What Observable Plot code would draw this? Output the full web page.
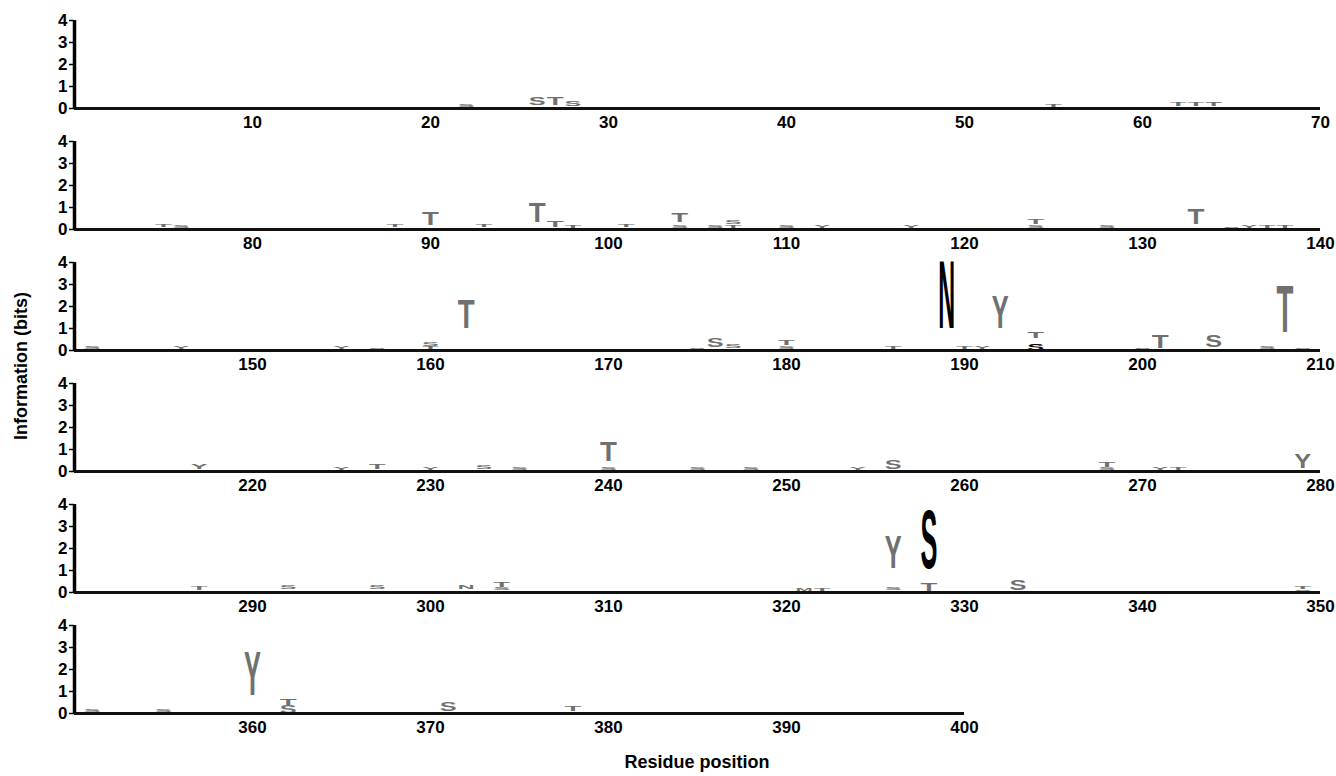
<!DOCTYPE html>
<html><head><meta charset="utf-8">
<script src="https://cdn.jsdelivr.net/npm/d3@7"></script>
<script src="https://cdn.jsdelivr.net/npm/@observablehq/plot@0.6"></script>
<style>
body{margin:0;background:#fff;}
#wrap{position:relative;width:1336px;height:776px;font-family:"Liberation Sans",Arial,sans-serif;overflow:hidden}
#rows{position:absolute;left:0;top:12px;}
#rows svg{display:block;overflow:visible}
.ytitle{position:absolute;left:21px;top:366px;transform:translate(-50%,-50%) rotate(-90deg);font-weight:bold;font-size:18px;white-space:nowrap}
.xtitle{position:absolute;left:697px;top:762px;transform:translate(-50%,-50%);font-weight:bold;font-size:18px;white-space:nowrap}
</style></head>
<body><div id="wrap"><div id="rows"></div><div class="ytitle">Information (bits)</div><div class="xtitle">Residue position</div></div>
<script>
// residue positions of each drawn letter (stacked letters share a position)
const residue = [22,26,27,28,55,62,63,64,
  75,76,88,90,93,96,97,98,101,104,104,106,107,107,110,112,117,124,124,128,133,135,136,137,138,
  141,146,155,157,160,160,162,175,176,177,180,180,186,189,190,191,192,194,194,200,201,204,207,208,209,
  217,225,227,230,233,235,240,240,245,248,254,256,268,268,271,272,279,
  287,292,297,302,304,304,321,322,326,326,328,328,333,349,349,
  351,355,360,362,362,371,378];
const letter = ["S","S","T","S","T","T","T","T",
  "T","S","T","T","T","T","T","T","T","S","T","S","T","S","S","Y","Y","S","T","S","T","S","Y","T","T",
  "S","Y","Y","S","T","S","T","S","S","S","S","T","T","N","T","Y","Y","S","T","S","T","S","S","T","S",
  "Y","Y","T","Y","S","S","S","T","S","S","Y","S","S","T","Y","T","Y",
  "T","S","S","N","S","T","M","T","S","Y","T","S","S","S","T",
  "S","S","Y","S","T","S","T"];
// bottom and top of each letter, in bits
const bitsLow = [0.08,0.15,0.15,0.12,0.08,0.12,0.12,0.10,
  0.10,0.08,0.10,0.22,0.10,0.34,0.12,0.08,0.10,0.08,0.34,0.08,0.08,0.27,0.08,0.08,0.08,0.08,0.24,0.08,0.24,0.07,0.07,0.07,0.07,
  0.07,0.07,0.07,0.07,0.08,0.22,1.03,0.07,0.15,0.10,0.08,0.27,0.07,1.03,0.07,0.07,1.03,0.03,0.55,0.07,0.10,0.15,0.08,0.85,0.07,
  0.10,0.08,0.10,0.08,0.10,0.08,0.08,0.48,0.08,0.08,0.08,0.13,0.08,0.20,0.07,0.07,0.15,
  0.12,0.18,0.18,0.18,0.10,0.25,0.08,0.08,0.10,1.12,0.07,1.12,0.12,0.08,0.18,
  0.07,0.07,0.85,0.03,0.39,0.10,0.10];
const bitsHigh = [0.18,0.50,0.47,0.32,0.22,0.30,0.30,0.26,
  0.24,0.18,0.24,0.82,0.24,1.24,0.42,0.20,0.24,0.20,0.72,0.18,0.22,0.42,0.18,0.18,0.18,0.18,0.45,0.20,0.94,0.15,0.18,0.20,0.20,
  0.17,0.20,0.18,0.15,0.20,0.38,2.33,0.13,0.55,0.25,0.20,0.50,0.18,4.12,0.20,0.20,2.50,0.33,0.85,0.15,0.66,0.66,0.20,2.95,0.15,
  0.30,0.18,0.33,0.18,0.28,0.18,0.22,1.35,0.18,0.18,0.20,0.52,0.18,0.40,0.18,0.18,0.78,
  0.30,0.36,0.33,0.33,0.22,0.45,0.18,0.18,0.20,2.58,0.42,3.75,0.60,0.16,0.30,
  0.17,0.17,2.88,0.36,0.66,0.48,0.30];
// letters drawn in black (all others grey)
const blackLetters = ["189N","194S","328S"];
// panel extents (residue positions) and tick labels
const rowStart = [0,70,140,210,280,350];
const rowEnd = [70,140,210,280,350,400];
const bitTicks = [0,1,2,3,4];

const logo = residue.map((p,i)=>({pos:p, letter:letter[i], lo:bitsLow[i], hi:bitsHigh[i],
  shade: blackLetters.includes(p+letter[i]) ? "strong" : "weak"}));

const CAP = 0.70; // cap height of the bold letter face, in em
const labelFont = '"Liberation Sans Narrow","Arial Narrow","Liberation Sans",Arial,sans-serif';
const pxPerPos = (1320-74)/70;

const rows = document.getElementById("rows");
rowStart.forEach((s, r) => {
  const e = rowEnd[r];
  const data = logo.filter(d => d.pos > s && d.pos <= e);
  const ticks = d3.range(s+10, e+1, 10);
  const plot = Plot.plot({
    width: 1336, height: 121,
    marginLeft: 74, marginRight: 1336 - 74 - (e - s) * pxPerPos,
    marginTop: 8, marginBottom: 25,
    x: {domain: [s, e], axis: null},
    y: {domain: [0, 4], axis: null},
    color: {type: "ordinal", domain: ["weak","strong"], range: ["#707070","#000000"]},
    style: {background: "transparent"},
    marks: [
      Plot.axisY({ticks: bitTicks, label: null, tickSize: 5, tickPadding: 2, tickFormat: d => d, fontSize: 17, fontWeight: "bold", fontFamily: labelFont, strokeWidth: 1.5, color: "#000"}),
      Plot.axisX({ticks, label: null, tickSize: 0, tickPadding: 7, tickFormat: d => d, fontSize: 17, fontWeight: "bold", fontFamily: labelFont, color: "#000"}),
      Plot.text(data, {x: "pos", y: "lo", text: "letter", fill: "shade", lineAnchor: "bottom", textAnchor: "middle",
        fontWeight: "bold", fontFamily: '"Liberation Sans",Arial,sans-serif'}),
      Plot.ruleY([0], {stroke: "#111", strokeWidth: 3}),
      Plot.ruleX([s], {y1: 0, y2: 4, stroke: "#000", strokeWidth: 3.5})
    ]
  });
  const xs = plot.scale("x"), ys = plot.scale("y");
  const bw = Math.abs(xs.apply(s + 1) - xs.apply(s));
  const texts = plot.querySelectorAll('g[aria-label="text"] text');
  texts.forEach((el, i) => {
    const d = data[i];
    if (!d) return;
    const h = ys.apply(d.lo) - ys.apply(d.hi);
    el.setAttribute("font-size", (h / CAP).toFixed(2));
    el.setAttribute("textLength", (bw * 0.95).toFixed(2));
    el.setAttribute("lengthAdjust", "spacingAndGlyphs");
  });
  rows.appendChild(plot);
});
</script>
</body></html>
